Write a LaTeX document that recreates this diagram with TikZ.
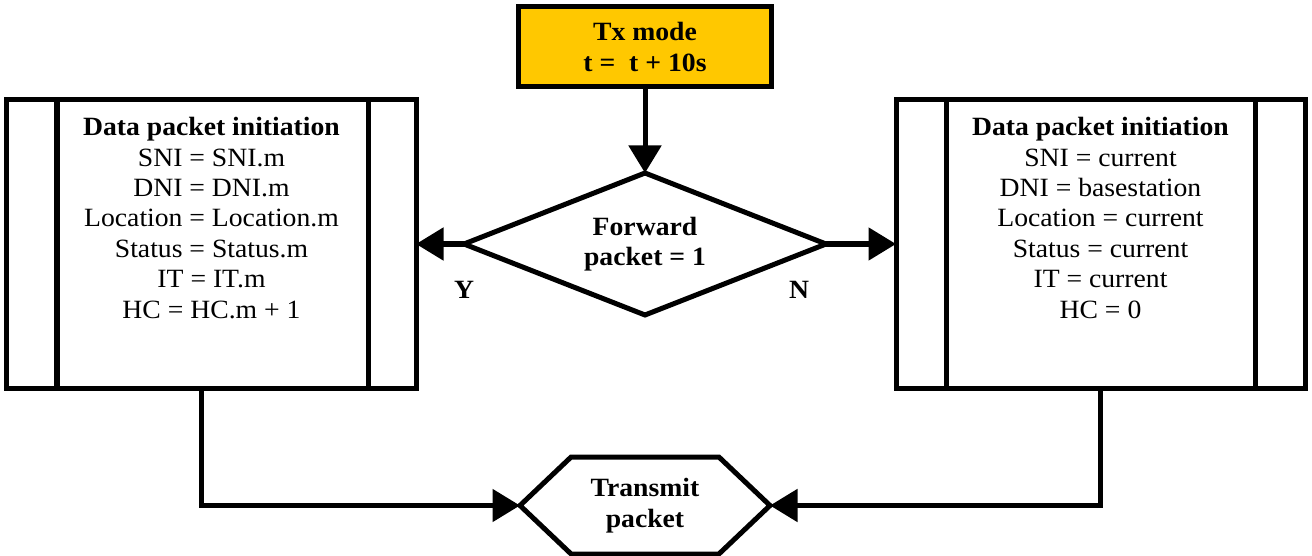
\documentclass[tikz,border=0pt]{standalone}
\usepackage{fontspec}
\setmainfont[FakeStretch=1.05]{Liberation Serif}
\usepackage{tikz}
\usetikzlibrary{arrows.meta,shapes.geometric,shapes.symbols}
\usetikzlibrary{positioning}
\definecolor{modegold}{HTML}{FFC800}
\tikzset{
    mode/.style={
      rectangle,
           draw=black, line width=0.1cm,
           fill=modegold,
           inner sep=0pt, outer sep=0pt,
           align=center,
           font=\fontsize{15pt}{17.3pt}\selectfont\bfseries,
           minimum width=5.06cm,
           minimum height=1.6cm,
           },
}
\tikzset{
    decide/.style={
      diamond,
           draw=black, line width=0.1cm,
           inner sep=0pt, outer sep=0pt,
           aspect=2.55,
           align=center,
           font=\fontsize{15pt}{17.3pt}\selectfont\bfseries,
           minimum width=7.24cm,
           minimum height=2.84cm,
           },
}
\tikzset{
    initbox/.style={
      rectangle,
           draw=black, line width=0.1cm,
           inner sep=0pt, outer sep=0pt,
           minimum width=8.18cm,
           minimum height=5.76cm,
           },
}
\tikzset{
    inittext/.style={
           inner sep=0pt,
           anchor=north,
           align=center,
           font=\fontsize{15pt}{17.3pt}\selectfont,
           },
}
\tikzset{
    sendbox/.style={
      signal, signal to=east and west, signal pointer angle=87,
           draw=black, line width=0.1cm,
           inner sep=0pt, outer sep=0pt,
           align=center,
           font=\fontsize{15pt}{17.3pt}\selectfont\bfseries,
           minimum width=5cm,
           minimum height=1.94cm,
           },
}
\tikzset{
    flow/.style={-{Triangle[length=0.55cm,width=0.64cm]},line width=0.1cm},
}

\begin{document}
\begin{tikzpicture}

\useasboundingbox (0,0) rectangle (26.24,-11.12);

\node[mode](tx) at (12.9,-0.94){Tx mode\\t =~ t + 10s};

\node[decide,below = 1.72cm of tx](fw){Forward\\packet = 1};

\node[initbox,left = 0.96cm of fw](lbox){};
\node[initbox,right = 1.4cm of fw](rbox){};

\draw[line width=0.1cm] ([xshift=1cm]lbox.north west) -- ([xshift=1cm]lbox.south west);
\draw[line width=0.1cm] ([xshift=-0.96cm]lbox.north east) -- ([xshift=-0.96cm]lbox.south east);
\draw[line width=0.1cm] ([xshift=1cm]rbox.north west) -- ([xshift=1cm]rbox.south west);
\draw[line width=0.1cm] ([xshift=-1cm]rbox.north east) -- ([xshift=-1cm]rbox.south east);

\node[inittext,below = 0.34cm of lbox.north](ltxt){\textbf{Data packet initiation}\\SNI = SNI.m\\DNI = DNI.m\\Location = Location.m\\Status = Status.m\\IT = IT.m\\HC = HC.m + 1};
\node[inittext,below = 0.34cm of rbox.north](rtxt){\textbf{Data packet initiation}\\SNI = current\\DNI = basestation\\Location = current\\Status = current\\IT = current\\HC = 0};

\node[sendbox,below = 2.84cm of fw](tp){Transmit\\packet};

\node[font=\fontsize{15pt}{17.3pt}\selectfont\bfseries] (yes) at ([yshift=-0.92cm]fw.west){Y};
\node[font=\fontsize{15pt}{17.3pt}\selectfont\bfseries] (no) at ([xshift=-0.54cm,yshift=-0.92cm]fw.east){N};

\draw[flow] (tx) -- (fw);
\draw[flow] (fw.west) -- (fw.west -| lbox.east);
\draw[flow] (fw.east) -- (fw.east -| rbox.west);
\draw[flow] ([xshift=-0.2cm]lbox.south) |- (tp.west);
\draw[flow] (rbox.south) |- (tp.east);

\end{tikzpicture}
\end{document}
